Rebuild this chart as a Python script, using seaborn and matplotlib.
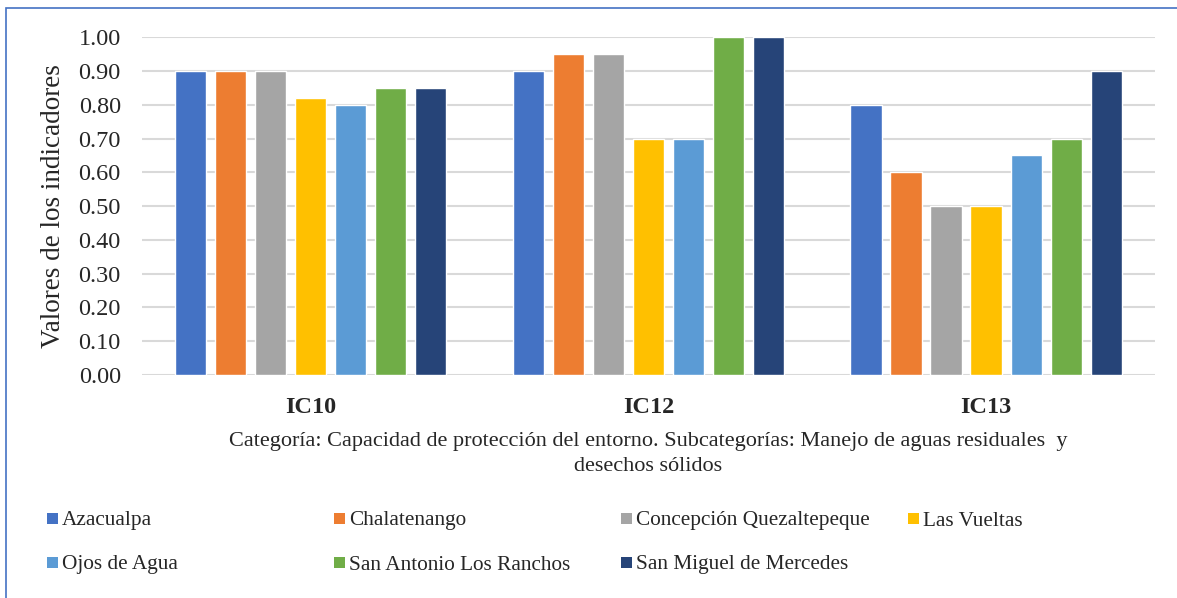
import numpy as np
import pandas as pd
import matplotlib.pyplot as plt
import seaborn as sns
from matplotlib.patches import Rectangle

# ==========================================
# DATA
# ==========================================
INDICADORES = ['IC10', 'IC12', 'IC13']
MUNICIPIOS = [
    'Azacualpa',
    'Chalatenango',
    'Concepción Quezaltepeque',
    'Las Vueltas',
    'Ojos de Agua',
    'San Antonio Los Ranchos',
    'San Miguel de Mercedes',
]
IC10 = [0.90, 0.90, 0.90, 0.82, 0.80, 0.85, 0.85]
IC12 = [0.90, 0.95, 0.95, 0.70, 0.70, 1.00, 1.00]
IC13 = [0.80, 0.60, 0.50, 0.50, 0.65, 0.70, 0.90]
COLORES = ['#4472C4', '#ED7D31', '#A5A5A5', '#FFC000', '#5B9BD5', '#70AD47', '#264478']

XLABEL = ('Categoría: Capacidad de protección del entorno. Subcategorías: Manejo de aguas residuales  y\n'
          'desechos sólidos')

rows = []
for ind, vals in zip(INDICADORES, [IC10, IC12, IC13]):
    for mun, v in zip(MUNICIPIOS, vals):
        rows.append({'Indicador': ind, 'Municipio': mun, 'Valor': v})
df = pd.DataFrame(rows)

# ==========================================
# PLOT
# ==========================================
sns.set_style('white')
plt.rcParams['font.family'] = ['Liberation Serif', 'DejaVu Serif']

fig = plt.figure(figsize=(11.77, 5.98), dpi=100)
ax = fig.add_axes([141.7 / 1177, 1 - 375 / 598, (1155 - 141.7) / 1177, (375 - 37.3) / 598])

sns.barplot(data=df, x='Indicador', y='Valor', hue='Municipio', hue_order=MUNICIPIOS,
            order=INDICADORES, palette=COLORES, width=0.83, gap=0.22,
            saturation=1, legend=False, ax=ax)

ax.set_ylim(0, 1.0)
ax.set_xlim(-0.5, 2.5)
ax.set_yticks(np.arange(0, 1.01, 0.1))
ax.set_yticklabels([f'{t:.2f}' for t in np.arange(0, 1.01, 0.1)], fontsize=17.5)
ax.tick_params(axis='y', length=0, pad=15)
ax.tick_params(axis='x', length=0, pad=16)
for lbl in ax.get_xticklabels():
    lbl.set_fontsize(17.5)
    lbl.set_fontweight('bold')

ax.yaxis.grid(True, color='#D9D9D9', linewidth=1.5)
ax.set_axisbelow(True)
for s in ax.spines.values():
    s.set_visible(False)

ax.set_ylabel('Valores de los indicadores', fontsize=19.5, labelpad=9)
ax.set_xlabel(XLABEL, fontsize=16, linespacing=1.45, labelpad=10)

# legend laid out in a fixed 4-column grid like the original
for i, (mun, col) in enumerate(zip(MUNICIPIOS, COLORES)):
    cx = 47 + (i % 4) * 287
    cy = 518 + (i // 4) * 44
    fig.patches.append(Rectangle((cx / 1177, 1 - (cy + 5.5) / 598), 11 / 1177, 11 / 598,
                                 transform=fig.transFigure, facecolor=col, edgecolor='none'))
    fig.text((cx + 15) / 1177, 1 - (cy + 7.5) / 598, mun, fontsize=15.3,
             va='baseline', ha='left')

# blue frame (top and left edges visible)
fig.patches.append(Rectangle((6 / 1177, -0.05), 1.2, 1 - 7.5 / 598 + 0.05,
                             transform=fig.transFigure, facecolor='none',
                             edgecolor='#4472C4', linewidth=1.2))

fig.savefig('out.png', dpi=100)
